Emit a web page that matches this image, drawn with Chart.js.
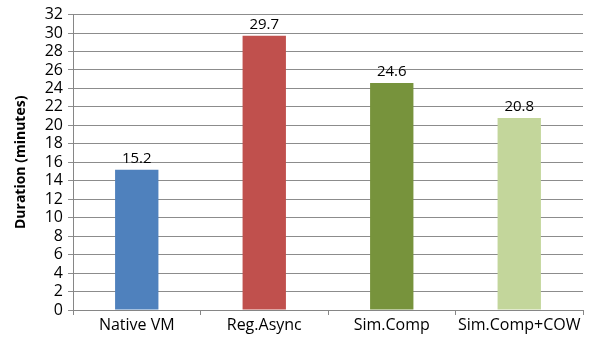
<!DOCTYPE html>
<html>
<head>
<meta charset="utf-8">
<script src="https://cdn.jsdelivr.net/npm/chart.js@4/dist/chart.umd.min.js"></script>
<style>
  html, body { margin: 0; padding: 0; background: #fff; }
  #wrap { width: 592px; height: 338px; }
</style>
</head>
<body>
<div id="wrap"><canvas id="c" width="592" height="338"></canvas></div>
<script>
// Migration duration per approach
const categories = ["Native VM", "Reg.Async", "Sim.Comp", "Sim.Comp+COW"];
const durations = [15.2, 29.7, 24.6, 20.8];
const barColors = ["#4F81BD", "#C0504D", "#77933C", "#C3D69B"];
const yTicks = { min: 0, max: 32, step: 2 };

const FONT = "'Open Sans', sans-serif";

// Writes each bar's value just above it
const valueLabels = {
  id: "valueLabels",
  afterDatasetsDraw(chart) {
    const ctx = chart.ctx;
    const meta = chart.getDatasetMeta(0);
    ctx.save();
    ctx.font = "15px " + FONT;
    ctx.fillStyle = "#000";
    ctx.textAlign = "center";
    ctx.textBaseline = "alphabetic";
    meta.data.forEach((bar, i) => {
      ctx.fillText(durations[i].toFixed(1), bar.x, bar.y - 7);
    });
    ctx.restore();
  }
};

new Chart(document.getElementById("c"), {
  type: "bar",
  data: {
    labels: categories,
    datasets: [{
      data: durations,
      backgroundColor: barColors,
      borderWidth: 0,
      barPercentage: 0.34,
      categoryPercentage: 1.0
    }]
  },
  options: {
    responsive: false,
    animation: false,
    layout: { padding: { top: 12, right: 9, left: 0, bottom: 0 } },
    plugins: { legend: { display: false }, tooltip: { enabled: false } },
    scales: {
      x: {
        offset: true,
        grid: {
          offset: true,
          drawOnChartArea: false,
          drawTicks: true,
          tickLength: 5,
          color: "#868686"
        },
        border: { color: "#868686" },
        ticks: {
          font: { size: 16, family: FONT },
          color: "#000",
          padding: 1,
          autoSkip: false,
          maxRotation: 0
        },
        afterFit(scale) { scale.height = 28; }
      },
      y: {
        min: yTicks.min,
        max: yTicks.max,
        ticks: {
          stepSize: yTicks.step,
          autoSkip: false,
          font: { size: 16, family: FONT },
          color: "#000",
          padding: 5
        },
        grid: { color: "#8c8c8c", tickLength: 5 },
        border: { color: "#868686" },
        title: {
          display: true,
          text: "Duration (minutes)",
          font: { size: 14, weight: "bold", family: FONT },
          color: "#000",
          padding: { top: 13, bottom: 0 }
        },
        afterFit(scale) { scale.width = 73; }
      }
    }
  },
  plugins: [valueLabels]
});
</script>
</body>
</html>
